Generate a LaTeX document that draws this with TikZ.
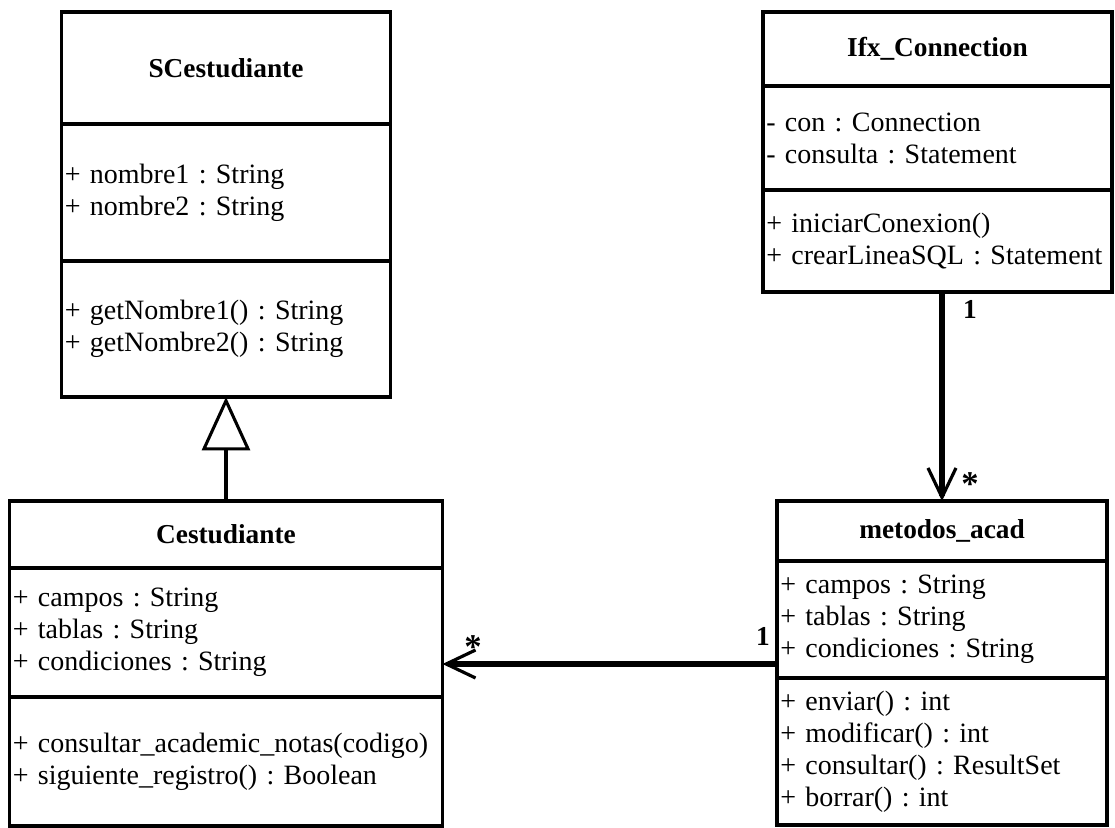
\documentclass[tikz,border=0pt]{standalone}
\usepackage{fontspec}
\setmainfont{Liberation Serif}
\usetikzlibrary{positioning,arrows.meta}
\newcommand\umlfont{\fontsize{21}{24}\selectfont}
\newcommand\umltitlefont{\fontsize{20.5}{24}\selectfont\bfseries}
\frenchspacing

\tikzset{
  comp/.style 2 args={draw, line width=2.5pt, outer sep=0pt, inner xsep=2.5pt,
    inner ysep=0pt, text width=#1, minimum height=#2, align=left, font=\umlfont},
  ctitle/.style 2 args={comp={#1}{#2}, align=center, font=\umltitlefont, anchor=north},
  assoc/.style={line width=4.2pt, -{Straight Barb[length=22pt, width=21pt, line width=2.4pt]}},
  gen/.style={line width=2.3pt, -{Triangle[open, length=40pt, width=36pt, fill=white]}},
  mult/.style={font=\umltitlefont, inner sep=0pt},
  star/.style={font=\fontsize{26}{26}\selectfont\bfseries, inner sep=0pt}
}

\begin{document}
\begin{tikzpicture}[x=0.75pt, y=-0.75pt]
  \useasboundingbox (0,0) rectangle (1115,828);

  \node[ctitle={241.75pt}{84pt}] (scTitle) at (226,12) {SCestudiante};
  \node[comp={241.75pt}{102.75pt}, below=0pt of scTitle] (scAttr)
    {+ nombre1 : String\\+ nombre2 : String};
  \node[comp={241.75pt}{102pt}, below=0pt of scAttr] (scMet)
    {+ getNombre1() : String\\+ getNombre2() : String};

  \node[ctitle={319.75pt}{50.25pt}] (ceTitle) at (226,501) {Cestudiante};
  \node[comp={319.75pt}{96.75pt}, below=0pt of ceTitle] (ceAttr)
    {+ campos : String\\+ tablas : String\\+ condiciones : String};
  \node[comp={319.75pt}{96.75pt}, below=0pt of ceAttr] (ceMet)
    {+ consultar\_academic\_notas(codigo)\\+ siguiente\_registro() : Boolean};

  \node[ctitle={256.75pt}{55.5pt}] (ifxTitle) at (937.5,12) {Ifx\_Connection};
  \node[comp={256.75pt}{78pt}, below=0pt of ifxTitle] (ifxAttr)
    {- con : Connection\\- consulta : Statement};
  \node[comp={256.75pt}{76.5pt}, below=0pt of ifxAttr] (ifxMet)
    {+ iniciarConexion()\\+ crearLineaSQL : Statement};

  \node[ctitle={242.5pt}{45pt}] (maTitle) at (942,501) {metodos\_acad};
  \node[comp={242.5pt}{87.75pt}, below=0pt of maTitle] (maAttr)
    {+ campos : String\\+ tablas : String\\+ condiciones : String};
  \node[comp={242.5pt}{110.25pt}, below=0pt of maAttr] (maMet)
    {+ enviar() : int\\+ modificar() : int\\+ consultar() : ResultSet\\+ borrar() : int};

  \draw[gen] (ceTitle.north) -- (scMet.south);
  \draw[assoc] (ifxMet.south -| maTitle.north) -- (maTitle.north);
  \coordinate (maEnd) at ([yshift=10.5pt]maAttr.south west);
  \draw[assoc] (maEnd) -- (maEnd -| ceAttr.east);

  \node[mult] (m1) at (970,309) {1};
  \node[star] (m2) at (970,484) {*};
  \node[mult] (m3) at (763,636) {1};
  \node[star] (m4) at (473,647) {*};
\end{tikzpicture}
\end{document}
